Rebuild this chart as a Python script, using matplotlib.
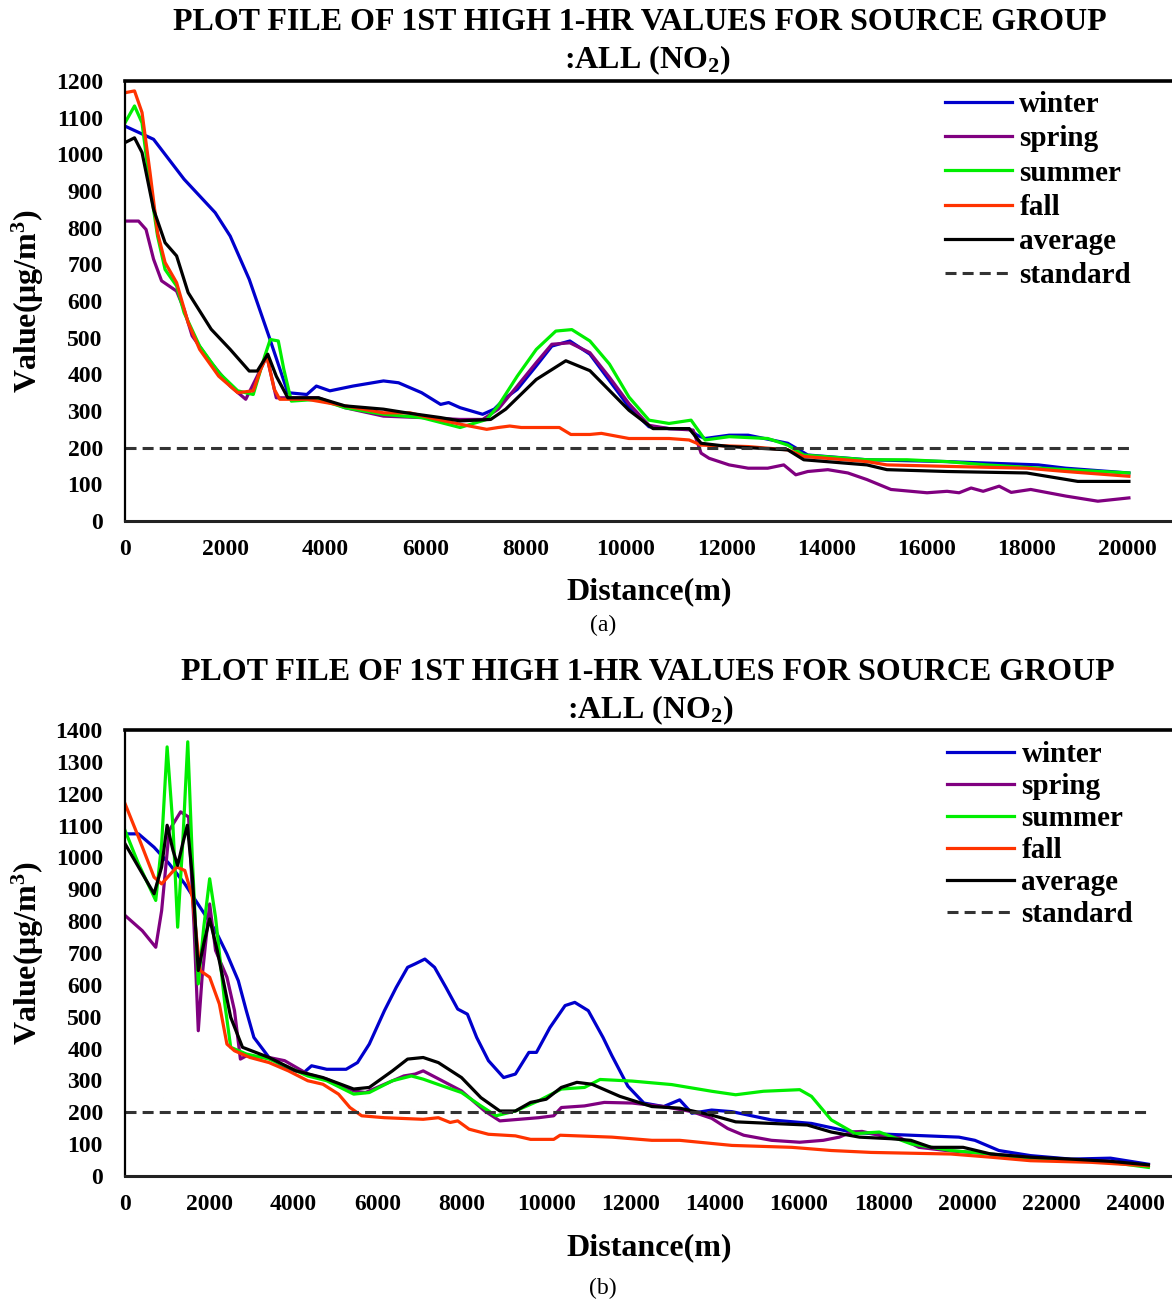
import matplotlib
matplotlib.use('Agg')
import matplotlib.pyplot as plt


# <============DATA: PANEL (a)============>#

a_winter_x = [0, 570, 1180, 1800, 2100, 2480, 2870, 3250, 3630, 3820, 4090, 4550, 5160, 5460, 5920,
              6300, 6460, 6690, 7140, 7370, 7600, 7830, 8210, 8520, 8880, 9280, 9670, 10060, 10460,
              10860, 11260, 11420, 11580, 12060, 12440, 13230, 13630, 14810, 16410, 17190, 18230,
              18780, 20040]
a_winter_y = [1077, 1041, 932, 841, 777, 659, 505, 350, 345, 368, 355, 368, 382, 377, 350,
              318, 323, 309, 291, 305, 336, 359, 423, 477, 491, 455, 383, 311, 257,
              252, 252, 234, 225, 234, 234, 212, 180, 167, 162, 158, 153,
              144, 131]

a_spring_x = [0, 270, 420, 570, 730, 1030, 1180, 1340, 1720, 2100, 2410, 2640, 2830, 3020, 3320,
              3860, 4390, 5160, 5920, 6690, 7140, 7450, 7830, 8210, 8520, 8880, 9280, 9670, 10060,
              10460, 10860, 11340, 11500, 11660, 12060, 12440, 12830, 13150, 13390, 13630, 14030,
              14430, 14810, 15290, 16010, 16410, 16650, 16890, 17130, 17450, 17690, 18080, 18780,
              19420, 20040]
a_spring_y = [818, 818, 795, 714, 655, 627, 577, 505, 432, 368, 332, 395, 450, 336, 336,
              336, 309, 286, 282, 277, 277, 305, 368, 432, 482, 486, 459, 392, 320,
              261, 252, 248, 185, 171, 153, 144, 144, 153, 126, 135, 140,
              131, 113, 86, 77, 81, 77, 90, 81, 95, 78, 86, 68,
              54, 63]

a_summer_x = [0, 190, 340, 500, 650, 800, 1030, 1180, 1490, 1870, 2250, 2560, 2790, 2900, 3060,
              3170, 3320, 3860, 4390, 5160, 5920, 6690, 7220, 7450, 7830, 8210, 8600, 8920, 9280,
              9670, 10060, 10460, 10860, 11300, 11580, 12060, 12830, 13230, 13550, 14810, 15610,
              16410, 17190, 18780, 20040]
a_summer_y = [1086, 1132, 1086, 914, 777, 686, 641, 568, 477, 405, 355, 345, 450, 495, 491,
              414, 327, 332, 309, 291, 282, 255, 277, 314, 395, 468, 518, 522, 491,
              428, 338, 275, 266, 275, 221, 230, 225, 207, 180, 167, 167,
              162, 153, 140, 131]

a_fall_x = [0, 190, 340, 500, 650, 800, 1030, 1260, 1490, 1870, 2250, 2560, 2710, 2830, 2980,
            3090, 3630, 4390, 5160, 5690, 6070, 6690, 7220, 7450, 7680, 7910, 8210, 8670, 8900,
            9280, 9510, 10060, 10860, 11260, 11500, 12440, 13230, 13550, 14810, 15210, 16410,
            18000, 18780, 20040]
a_fall_y = [1168, 1173, 1114, 950, 786, 705, 650, 541, 468, 395, 350, 355, 414, 450, 359,
            332, 332, 314, 295, 295, 282, 264, 250, 255, 259, 255, 255, 255, 236,
            236, 239, 225, 225, 221, 207, 203, 194, 176, 162, 153, 149,
            144, 135, 122]

a_avg_x = [0, 190, 340, 570, 800, 1030, 1260, 1720, 2100, 2480, 2640, 2850, 3020, 3250, 3860,
           4390, 5160, 5620, 6300, 6690, 7300, 7600, 8210, 8800, 9280, 9670, 10060, 10540, 11260,
           11500, 12060, 13230, 13550, 14810, 15210, 16410, 18000, 19020, 20040]
a_avg_y = [1032, 1045, 1005, 850, 759, 723, 623, 523, 468, 409, 409, 455, 395, 336, 336,
           314, 305, 295, 282, 273, 277, 305, 386, 437, 410, 356, 302, 252, 252,
           212, 203, 194, 167, 153, 140, 135, 131, 108, 108]

a_std_x = [0, 20040]
a_std_y = [200, 200]

# <============DATA: PANEL (b)============>#

b_winter_x = [0, 320, 690, 1050, 1420, 1780, 2150, 2420, 2690, 2880, 3060, 3420, 3880, 4250, 4430,
              4790, 5250, 5520, 5800, 6160, 6440, 6710, 6890, 7120, 7350, 7620, 7900, 8130, 8350,
              8630, 8990, 9270, 9590, 9770, 10090, 10450, 10680, 11000, 11350, 11560, 11940, 12320,
              12790, 13170, 13460, 13930, 14410, 15350, 16300, 17250, 17720, 18660, 19800, 20180,
              20750, 21500, 22460, 23400, 24300]
b_winter_y = [1074, 1074, 1032, 980, 917, 844, 770, 697, 613, 519, 435, 372, 335, 325, 346,
              335, 335, 356, 414, 519, 592, 655, 666, 681, 655, 592, 524, 508, 435,
              362, 309, 320, 388, 388, 466, 535, 545, 519, 435, 378, 282, 229,
              218, 239, 197, 207, 202, 176, 165, 138, 133, 128, 122, 112,
              80, 64, 53, 56, 37]

b_spring_x = [0, 410, 730, 870, 1050, 1320, 1510, 1640, 1740, 1830, 2010, 2150, 2420, 2600, 2740,
              2880, 3420, 3790, 4340, 4790, 5430, 5710, 6160, 6620, 6890, 7080, 7530, 7990, 8540,
              8900, 9360, 9820, 10180, 10360, 10910, 11380, 12040, 12790, 13460, 13930, 14310,
              14690, 15350, 16020, 16580, 16960, 17250, 17500, 18000, 18400, 18850, 19500, 20500,
              21500, 22500, 23400, 24300]
b_spring_y = [818, 770, 718, 833, 1085, 1143, 1127, 781, 456, 624, 854, 708, 624, 519, 367,
              377, 372, 362, 320, 304, 267, 262, 288, 314, 320, 330, 299, 267, 204,
              173, 178, 183, 189, 215, 220, 231, 229, 218, 202, 181, 149,
              128, 112, 106, 112, 122, 138, 140, 125, 120, 90, 80, 70,
              58, 50, 45, 33]

b_summer_x = [0, 320, 730, 870, 1000, 1140, 1250, 1370, 1490, 1600, 1740, 1870, 2010, 2150, 2370,
              2510, 2880, 3420, 3880, 4340, 4790, 5430, 5800, 6350, 6800, 7080, 7530, 7990, 8450,
              8810, 9270, 9820, 10360, 10910, 11280, 12040, 12980, 13930, 14500, 15160, 16020,
              16300, 16770, 17340, 17910, 18660, 19610, 20560, 21500, 22460, 23400, 24300]
b_summer_y = [1085, 980, 865, 1043, 1347, 1095, 781, 1043, 1363, 991, 603, 781, 933, 812, 540,
              404, 383, 367, 341, 314, 299, 257, 262, 299, 314, 304, 283, 262, 220,
              189, 204, 236, 273, 278, 303, 298, 287, 266, 255, 266, 271,
              250, 176, 133, 138, 101, 80, 69, 53, 48, 43, 27]

b_fall_x = [0, 320, 690, 870, 1230, 1420, 1600, 1780, 2010, 2240, 2420, 2600, 2970, 3420, 3880,
            4340, 4700, 5070, 5340, 5620, 6160, 7080, 7440, 7720, 7900, 8170, 8630, 9270, 9630,
            10180, 10330, 11560, 12510, 13170, 14410, 15830, 16770, 17720, 19610, 20560, 21500,
            22930, 24300]
b_fall_y = [1169, 1064, 938, 917, 970, 959, 875, 645, 624, 540, 414, 393, 372, 356, 330,
            299, 288, 257, 215, 189, 183, 178, 183, 168, 173, 147, 131, 126, 115,
            115, 128, 122, 112, 112, 96, 90, 80, 74, 69, 59, 48,
            43, 32]

b_avg_x = [0, 320, 690, 870, 1000, 1140, 1250, 1370, 1480, 1600, 1740, 1870, 2010, 2190, 2510,
           2790, 3420, 4060, 4700, 5430, 5800, 6350, 6710, 7080, 7440, 7990, 8450, 8900, 9270,
           9630, 10000, 10360, 10730, 11090, 11750, 12510, 13170, 13930, 14500, 15350, 16200,
           16770, 17440, 18190, 18660, 19140, 19900, 20560, 21500, 22460, 23400, 24300]
b_avg_y = [1043, 970, 886, 970, 1101, 1022, 975, 1043, 1101, 938, 645, 729, 807, 708, 498,
           404, 372, 330, 309, 273, 278, 330, 367, 372, 356, 309, 246, 204, 204,
           231, 241, 278, 294, 288, 250, 218, 213, 191, 170, 165, 160,
           138, 122, 117, 112, 90, 90, 69, 59, 53, 46, 35]

b_std_x = [0, 24300]
b_std_y = [200, 200]

series_names = ['winter', 'spring', 'summer', 'fall', 'average']
series_colors = ['#0000CC', '#800080', '#00EE00', '#FF3300', '#000000']

title_1 = 'PLOT FILE OF 1ST HIGH 1-HR VALUES FOR SOURCE GROUP'
title_2 = r':ALL (NO$_\mathrm{2}$)'

# <============STYLE============>#

plt.rcParams['font.family'] = 'Liberation Serif'
plt.rcParams['font.weight'] = 'bold'
plt.rcParams['axes.labelweight'] = 'bold'
plt.rcParams['mathtext.fontset'] = 'custom'
plt.rcParams['mathtext.rm'] = 'Liberation Serif:bold'
plt.rcParams['mathtext.it'] = 'Liberation Serif:bold'
plt.rcParams['mathtext.bf'] = 'Liberation Serif:bold'

W, H = 1172, 1302
fig = plt.figure(figsize=(W / 100, H / 100), dpi=100)


def panel(top_px, bottom_px, xs, ys, std_x, std_y, xmax, ymax, legend_top, legend_left, spacing):
    ax = fig.add_axes([125 / W, 1 - bottom_px / H, 1 - 125 / W, (bottom_px - top_px) / H])
    for x, y, name, c in zip(xs, ys, series_names, series_colors):
        ax.plot(x, y, color=c, lw=2.3, label=name, solid_joinstyle='round')
    ax.plot(std_x, std_y, color='#333333', lw=2.2, linestyle=(0, (3.6, 2.0)), label='standard')
    ax.set_xlim(0, xmax)
    ax.set_ylim(0, ymax)
    ax.set_xticks(range(0, int(xmax) + 1, 2000))
    ax.set_yticks(range(0, ymax + 1, 100))
    ax.tick_params(length=0, labelsize=17)
    ax.tick_params(axis='y', pad=16)
    ax.tick_params(axis='x', pad=13)
    ax.spines['right'].set_visible(False)
    ax.spines['top'].set_linewidth(2.6)
    ax.spines['bottom'].set_linewidth(2.2)
    ax.spines['bottom'].set_color('#222222')
    ax.spines['left'].set_linewidth(1.6)
    ax.set_ylabel(r'Value(μg/m$^\mathrm{3}$)', fontsize=23, va='center')
    ax.yaxis.set_label_coords(-0.093, 0.5)
    ax.set_xlabel('Distance(m)', fontsize=23, va='center')
    ax.xaxis.set_label_coords(0.501, -0.161)
    ax.legend(loc='upper left', bbox_to_anchor=(legend_left / W, 1 - legend_top / H),
              bbox_transform=fig.transFigure, frameon=False, fontsize=21,
              handlelength=2.3, handletextpad=0.25, labelspacing=spacing,
              borderpad=0, borderaxespad=0)
    return ax


ax1 = panel(81, 521, [a_winter_x, a_spring_x, a_summer_x, a_fall_x, a_avg_x],
            [a_winter_y, a_spring_y, a_summer_y, a_fall_y, a_avg_y],
            a_std_x, a_std_y, 20900, 1200, 91, 945, 0.25)
ax2 = panel(730, 1176, [b_winter_x, b_spring_x, b_summer_x, b_fall_x, b_avg_x],
            [b_winter_y, b_spring_y, b_summer_y, b_fall_y, b_avg_y],
            b_std_x, b_std_y, 24860, 1400, 741, 947, 0.17)

# titles and panel tags
fig.text(640 / W, 1 - 23 / H, title_1, ha='center', va='center', fontsize=23)
fig.text(647 / W, 1 - 60 / H, title_2, ha='center', va='center', fontsize=23)
fig.text(648 / W, 1 - 672 / H, title_1, ha='center', va='center', fontsize=23)
fig.text(650 / W, 1 - 710 / H, title_2, ha='center', va='center', fontsize=23)
fig.text(603 / W, 1 - 625 / H, '(a)', ha='center', va='center', fontsize=17, weight='normal')
fig.text(603 / W, 1 - 1288 / H, '(b)', ha='center', va='center', fontsize=17, weight='normal')

fig.savefig('out.png', dpi=100)
